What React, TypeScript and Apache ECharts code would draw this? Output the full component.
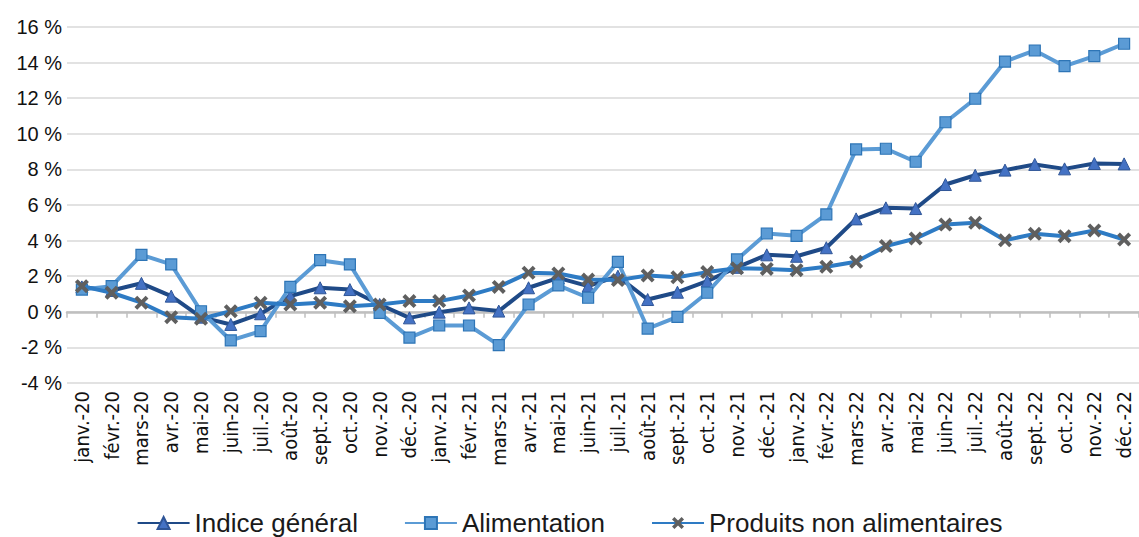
import React, { useEffect, useRef } from "react";
import * as echarts from "echarts";

const categories = [
  "janv.-20", "févr.-20", "mars-20", "avr.-20", "mai-20", "juin-20", "juil.-20", "août-20", "sept.-20", "oct.-20", "nov.-20", "déc.-20",
  "janv.-21", "févr.-21", "mars-21", "avr.-21", "mai-21", "juin-21", "juil.-21", "août-21", "sept.-21", "oct.-21", "nov.-21", "déc.-21",
  "janv.-22", "févr.-22", "mars-22", "avr.-22", "mai-22", "juin-22", "juil.-22", "août-22", "sept.-22", "oct.-22", "nov.-22", "déc.-22",
];

const indiceGeneral = [
  1.4, 1.2, 1.6, 0.88, -0.3, -0.71, -0.11, 0.88, 1.35, 1.25, 0.41, -0.34,
  -0.02, 0.22, 0.04, 1.35, 1.91, 1.44, 2.0, 0.69, 1.1, 1.72, 2.5, 3.2,
  3.12, 3.6, 5.22, 5.84, 5.8, 7.15, 7.67, 7.96, 8.28, 8.03, 8.33, 8.31,
];

const alimentation = [
  1.25, 1.44, 3.2, 2.66, 0.03, -1.61, -1.09, 1.4, 2.9, 2.66, -0.06, -1.45,
  -0.77, -0.77, -1.87, 0.41, 1.48, 0.79, 2.81, -0.94, -0.28, 1.07, 2.94, 4.4,
  4.27, 5.47, 9.12, 9.16, 8.43, 10.65, 11.97, 14.06, 14.68, 13.8, 14.36, 15.06,
];

const produitsNonAlimentaires = [
  1.44, 1.07, 0.51, -0.3, -0.39, 0.03, 0.51, 0.41, 0.51, 0.31, 0.41, 0.6,
  0.6, 0.92, 1.4, 2.19, 2.15, 1.81, 1.78, 2.04, 1.94, 2.23, 2.45, 2.41,
  2.34, 2.53, 2.81, 3.69, 4.12, 4.9, 5.0, 4.02, 4.38, 4.25, 4.57, 4.06,
];

const seriesNames = ["Indice général", "Alimentation", "Produits non alimentaires"];

const X_PATH = "path://M0,2 L2,0 L5,3 L8,0 L10,2 L7,5 L10,8 L8,10 L5,7 L2,10 L0,8 L3,5 Z";
const FONT = "'Liberation Sans', Arial, sans-serif";
const NARROW = "'Liberation Sans Narrow', 'DejaVu Sans Condensed', 'Liberation Sans', sans-serif";

export default function App() {
  const ref = useRef<HTMLDivElement>(null);
  useEffect(() => {
    document.body.style.margin = "0";
    if (!ref.current) return;
    const chart = echarts.init(ref.current, undefined, { renderer: "svg" });
    chart.setOption({
      animation: false,
      textStyle: { fontFamily: FONT },
      grid: { left: 67, top: 27, width: 1077, height: 356, containLabel: false },
      legend: {
        bottom: -4,
        left: "center",
        itemWidth: 52,
        itemHeight: 15,
        itemGap: 46,
        textStyle: { fontSize: 26, color: "#1a1a1a", fontFamily: FONT },
        data: seriesNames,
      },
      xAxis: {
        type: "category",
        data: categories,
        boundaryGap: true,
        axisLine: { lineStyle: { color: "#bfbfbf", width: 2.5 } },
        axisTick: { show: true, length: 6, lineStyle: { color: "#bfbfbf", width: 1.5 } },
        axisLabel: { rotate: 90, interval: 0, fontSize: 20, color: "#111111", margin: 8, fontFamily: NARROW },
      },
      yAxis: {
        type: "value",
        min: -4,
        max: 16,
        interval: 2,
        axisLine: { show: false },
        axisTick: { show: false },
        splitLine: { lineStyle: { color: "#d9d9d9", width: 1.5 } },
        axisLabel: {
          formatter: (v: number) => `${v} %`,
          fontSize: 20,
          color: "#111111",
          margin: 5,
          fontFamily: FONT,
        },
      },
      series: [
        {
          name: seriesNames[0],
          type: "line",
          data: indiceGeneral,
          symbol: "triangle",
          symbolSize: 12,
          lineStyle: { color: "#1f4a87", width: 4 },
          itemStyle: { color: "#4472c4", borderColor: "#2f5597", borderWidth: 1 },
          z: 2,
        },
        {
          name: seriesNames[1],
          type: "line",
          data: alimentation,
          symbol: "rect",
          symbolSize: 11,
          lineStyle: { color: "#5b9bd5", width: 4 },
          itemStyle: { color: "#5b9bd5", borderColor: "#2e75b6", borderWidth: 1.2 },
          z: 3,
        },
        {
          name: seriesNames[2],
          type: "line",
          data: produitsNonAlimentaires,
          symbol: X_PATH,
          symbolSize: 14,
          lineStyle: { color: "#2e7bc4", width: 4 },
          itemStyle: { color: "#5f5f5f" },
          z: 4,
        },
      ],
    });
    return () => chart.dispose();
  }, []);
  return <div ref={ref} style={{ width: 1139, height: 537 }} />;
}
